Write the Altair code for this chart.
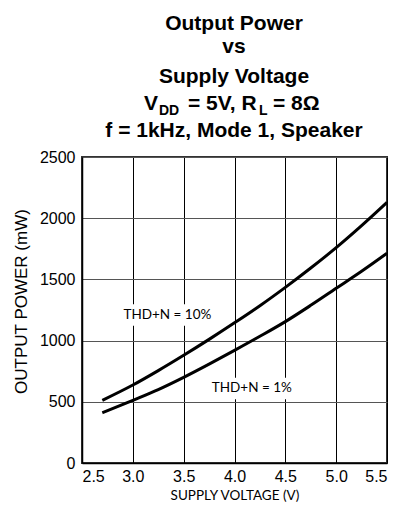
import altair as alt
import pandas as pd

# ---- data ----
voltage = [2.7, 3.0, 3.25, 3.5, 3.75, 4.0, 4.25, 4.5, 4.75, 5.0, 5.25, 5.5]
power_thd10 = [512, 637, 755, 880, 1010, 1145, 1285, 1435, 1593, 1760, 1940, 2130]
power_thd1 = [410, 512, 600, 700, 808, 920, 1035, 1155, 1288, 1427, 1566, 1713]
series_names = ["THD+N = 10%", "THD+N = 1%"]

label_text = ["THD+N = 10%", "THD+N = 1%"]
label_voltage = [3.34, 4.17]
label_power = [1209, 609]

x_ticks = [2.5, 3.0, 3.5, 4.0, 4.5, 5.0, 5.5]
y_ticks = [0, 500, 1000, 1500, 2000, 2500]

title_lines = ["Output Power", "vs", "Supply Voltage", "f = 1kHz, Mode 1, Speaker"]
title_line4 = ["V", "DD", "= 5V, R", "L", "= 8Ω"]

# ---- tables ----
rows = []
for name, vals in zip(series_names, [power_thd10, power_thd1]):
    for v, p in zip(voltage, vals):
        rows.append({"series": name, "v": v, "p": p})
df = pd.DataFrame(rows)
labels_df = pd.DataFrame({"text": label_text, "v": label_voltage, "p": label_power})

xs = alt.Scale(domain=[2.5, 5.5], nice=False, zero=False)
ys = alt.Scale(domain=[0, 2500], nice=False)

W, H = 305, 306

lines = alt.Chart(df).mark_line(color="black", strokeWidth=3, interpolate="monotone").encode(
    x=alt.X("v:Q", scale=xs, axis=alt.Axis(
        values=x_ticks, format=".1f", title="SUPPLY VOLTAGE (V)",
        grid=True, gridColor="black", gridWidth=1,
        domainColor="black", domainWidth=1.5, ticks=False,
        labelFont="Liberation Sans", labelFontSize=16, labelColor="black", labelPadding=5,
        titleFont="Lato", titleFontSize=13.5, titleFontWeight="normal", titleColor="black",
        titlePadding=4)),
    y=alt.Y("p:Q", scale=ys, axis=alt.Axis(
        values=y_ticks, format="d", title="OUTPUT POWER (mW)",
        grid=True, gridColor="#555555", gridWidth=1,
        domainColor="black", domainWidth=1.5, ticks=False,
        labelFont="Liberation Sans", labelFontSize=16, labelColor="black", labelPadding=7,
        titleFont="Liberation Sans", titleFontSize=17, titleFontWeight="normal", titleColor="black",
        titlePadding=9, titleY=144)),
    detail="series:N",
)

boxes = alt.Chart(labels_df).mark_point(
    shape="M-1,-0.24H1V0.24H-1Z", filled=True, color="white", opacity=1, strokeWidth=0, size=8100
).encode(x=alt.X("v:Q", scale=xs), y=alt.Y("p:Q", scale=ys))

texts = alt.Chart(labels_df).mark_text(
    font="Lato", fontSize=13.5, color="black", align="center", baseline="middle"
).encode(x=alt.X("v:Q", scale=xs), y=alt.Y("p:Q", scale=ys), text="text:N")

one = alt.Data(values=[{"k": 0}])


def tmark(txt, x, y, size, align="center"):
    return alt.Chart(one).mark_text(
        text=txt, font="Liberation Sans", fontWeight="bold", fontSize=size,
        color="black", align=align, baseline="alphabetic"
    ).encode(x=alt.value(x), y=alt.value(y))


title_layers = [
    tmark(title_lines[0], 152, -127, 21),
    tmark(title_lines[1], 152, -104, 21),
    tmark(title_lines[2], 152, -74, 21),
    tmark(title_line4[0], 62, -47, 21, "left"),
    tmark(title_line4[1], 77, -42, 14, "left"),
    tmark(title_line4[2], 106, -47, 21, "left"),
    tmark(title_line4[3], 177, -42, 14, "left"),
    tmark(title_line4[4], 191, -47, 21, "left"),
    tmark(title_lines[3], 152, -20, 21),
]

chart = alt.layer(lines, boxes, texts, *title_layers).properties(
    width=W, height=H,
    autosize=alt.AutoSizeParams(type="none"),
    padding={"left": 74, "top": 149, "right": 8, "bottom": 39},
    background="white",
).configure_view(stroke="#333333", strokeWidth=2)

chart.save("out.html", embed_options={"renderer": "svg", "actions": False})
